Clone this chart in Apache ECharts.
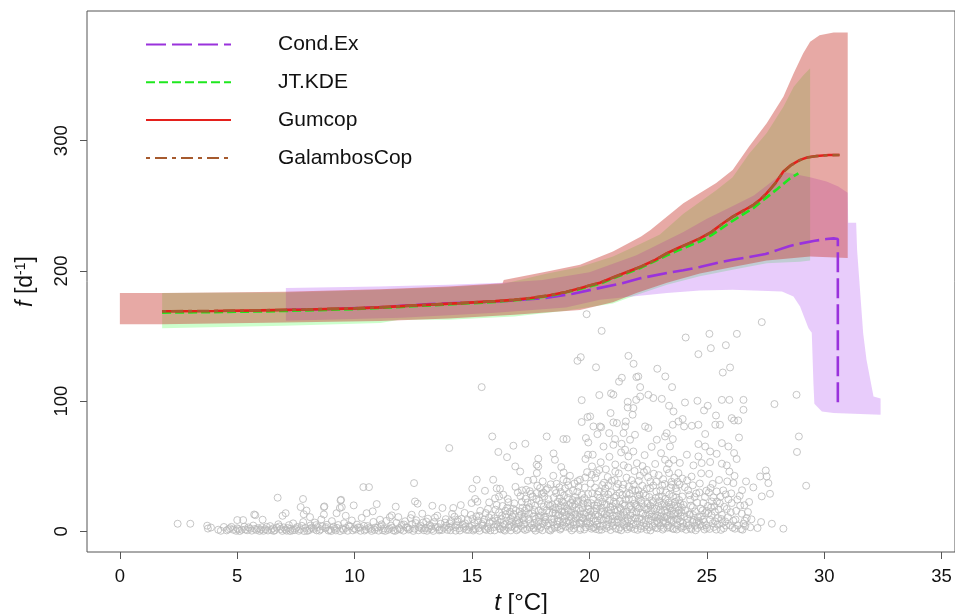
<!DOCTYPE html>
<html>
<head>
<meta charset="utf-8">
<script src="https://cdn.jsdelivr.net/npm/echarts@6/dist/echarts.min.js"></script>
<style>
html,body{margin:0;padding:0;background:#fff;}
#chart{width:955px;height:614px;}
</style>
</head>
<body>
<div id="chart"></div>
<script>
// ---------- tick labels ----------
var xTicks = [0, 5, 10, 15, 20, 25, 30, 35];
var yTicks = [0, 100, 200, 300];
var seriesNames = ['Cond.Ex', 'JT.KDE', 'Gumcop', 'GalambosCop'];

// ---------- fitted curves ----------
var condExLine = [[7.07,170],[9,170.8],[11,172],[13.2,174.6],[15,175.8],[16.5,177],[18,179],[19.3,182.5],[20.45,187],[21.4,190.6],[22.2,194.5],[23.3,198.5],[24,200.5],[24.7,203],[25.5,206.5],[26.1,208.6],[26.8,210.6],[27.5,213],[28,216],[28.5,219],[28.97,221],[29.6,223.2],[30.1,224.5],[30.4,225],[30.58,224.5],[30.58,95]];
var jtKdeLine = [[1.8,168],[4,168.4],[6,168.9],[8,169.7],[10,170.7],[12,172.4],[14,174.3],[16,176.2],[17.5,178.6],[18.5,181.5],[19.5,185.6],[20.45,190.2],[21.1,194.9],[22.2,202.5],[23.3,212],[24.2,219],[24.7,222.6],[25.2,227.5],[26.1,238.5],[27,248.5],[27.55,256.5],[28,263],[28.5,270.5],[28.9,275]];
var gumcopLine = [[1.8,169],[4,169.3],[6,169.7],[8,170.4],[10,171.3],[11,172],[12.6,173.6],[14.5,175.3],[16,176.8],[16.8,177.8],[17.5,179.2],[18.2,181],[19,183.8],[19.6,186.8],[20,188.8],[20.45,191],[21.1,195.7],[21.6,199.2],[22.2,203.4],[22.8,208.5],[23.3,213.6],[23.8,217.8],[24.2,221],[24.7,225],[25.2,230],[25.6,235.5],[26.1,241.7],[26.6,246.8],[27,251],[27.3,255.3],[27.55,259.7],[27.9,267],[28.26,276.3],[28.6,281.5],[28.97,285.3],[29.3,287.3],[29.68,288.3],[30.2,289],[30.65,289]];
var galambosLine = [[1.8,169],[4,169.3],[6,169.8],[8,170.5],[10,171.4],[11,172],[12.6,173.6],[14.5,175.3],[16,176.8],[16.8,177.9],[17.5,179.3],[18.2,181.1],[19,183.9],[19.6,186.8],[20,188.8],[20.45,191],[21.1,195.6],[21.6,199.1],[22.2,203.3],[22.8,208.4],[23.3,213.4],[23.8,217.6],[24.2,220.8],[24.7,224.8],[25.2,229.8],[25.6,235.3],[26.1,241.5],[26.6,246.6],[27,250.8],[27.3,255.1],[27.55,259.5],[27.9,266.8],[28.26,276.1],[28.6,281.3],[28.97,285.1],[29.3,287.1],[29.68,288.2],[30.2,288.9],[30.65,289]];

// ---------- confidence bands (upper / lower boundaries) ----------
var gumcopUpper = [[0,183],[1.8,183],[7,184],[11.1,186],[14,188],[16.3,190.5],[16.35,193],[18.2,199.5],[19.6,204.7],[21,214.9],[22.2,226.4],[22.6,231.5],[24,252],[25.4,267.5],[26.1,277.5],[26.8,295.5],[27.55,313.4],[28.26,333.8],[28.7,351.8],[29.1,367],[29.4,376],[29.8,381],[30.4,383],[31.0,383]];
var gumcopLower = [[0,159],[1.8,159],[7,160.5],[11.1,161.5],[14,163.5],[16.8,166.3],[19.6,170],[21,176],[22,183],[23.3,191],[24.7,198],[26.1,203],[27.55,208],[29.4,211],[31.0,210]];
var jtKdeUpper = [[1.8,183],[7,183.5],[11.1,185.5],[14,187.5],[16.3,190],[18.2,198],[19.6,203],[21,211],[22.2,221],[23,228],[24,244],[25.4,262],[26.1,272],[26.8,290],[27.55,306],[28.26,326],[28.7,341.5],[29.1,350],[29.4,355.6]];
var jtKdeLower = [[1.8,156],[7,158],[11.1,160],[11.9,162.5],[14,162.5],[16.8,165],[19,169.5],[21,175],[22,181.5],[23.3,189.5],[24.7,196],[26.1,201],[27.55,206],[28.97,207],[29.4,208]];
var condExUpper = [[7.07,187],[11,188],[14,189.5],[16.3,191],[18,193],[20,199],[22,212],[24,230],[25,240],[26,249],[27,258],[27.8,269],[28.3,276],[29.4,272],[30.1,268.6],[30.6,264.8],[31.0,260],[31.02,237],[31.36,237],[31.4,216],[31.66,152],[31.8,131.8],[32.1,103.6],[32.4,102],[32.4,89.6]];
var condExLower = [[7.07,161.7],[12,164],[16,168],[19,172],[20.45,177.8],[23.3,183],[24.7,185],[26.1,185.5],[28.2,184.2],[28.69,180.4],[28.97,172.7],[29.33,156],[29.47,152.5],[29.54,114],[29.58,98],[29.9,92],[30.4,90.9],[32.4,89.6]];

// ---------- observations (t, f) ----------
var obsLeft = [[2.46,5.9],[3.0,5.9],[3.72,4.4],[3.88,3.0],[3.75,2.2],[4.19,1.3],[4.43,3.4],[4.55,0.8],[4.69,2.4],[4.83,1.3],[4.95,0.5],[5.0,2.4],[5.19,1.3],[5.0,8.7],[5.25,8.7],[5.3,3.6],[5.42,0.9],[5.55,2.1],[5.72,13],[5.77,12.5],[5.68,4.5],[5.82,1.1],[5.95,0.4],[6.08,9],[6.05,3.2],[6.2,1.6],[6.31,0.7],[6.4,4.1],[6.52,2.3],[6.6,0.9],[6.72,25.9],[6.75,5.5],[6.85,1.8],[6.93,12],[7.06,14],[6.98,3.1],[7.1,0.6],[7.2,4.8],[7.27,2.0],[7.38,6.2],[7.45,1.1],[7.55,3.4],[7.62,0.5],
[4.3,0.5],[4.62,1.6],[5.1,0.3],[5.35,1.5],[5.62,0.6],[5.88,2.5],[6.12,0.5],[6.45,1.2],[6.68,2.9],[6.92,0.4],[7.15,2.6],[7.35,0.8],[7.68,1.6],[7.98,0.4],[8.18,2.9],[8.38,0.8],[8.62,3.9],[8.88,0.7],[9.15,1.9],[9.38,0.3],[9.62,2.7],[9.92,0.8],[10.15,3.1],[10.48,1.6],[10.72,0.4],[10.98,2.9],[11.2,0.9],[11.48,2.1],[11.72,0.4],[11.95,1.5],
[4.75,3.5],[5.05,1.7],[5.48,3.1],[5.75,1.9],[6.0,1.4],[6.25,3.5],[6.55,0.4],[6.8,3.8],[7.05,1.4],[7.25,0.3],[7.5,2.4],[7.75,4.3],[7.85,0.3],[8.08,2.1],[8.35,4.8],[8.55,1.6],[8.78,3.3],[9.0,0.3],[9.25,2.7],[9.52,1.1],[9.75,4.6],[9.98,2.3],[10.25,0.5],[10.4,4.3],[10.6,2.6],[10.85,1.2],[11.1,3.6],[11.3,0.4],[11.6,2.9],[11.82,1.3]];
var obsMidLeft = [[7.7,18.7],[7.8,24.9],[7.81,7.2],[7.83,13.2],[7.9,2.7],[7.95,16],[8.05,0.9],[8.1,11],[8.12,4.6],[8.25,1.9],[8.3,6.8],[8.42,3.3],[8.5,0.6],[8.58,9.2],[8.69,18.7],[8.69,13],[8.71,19.2],[8.75,2.4],[8.82,5.1],[8.95,1.2],[9.03,7.9],[9.1,3.6],[9.2,0.8],[9.23,14],[9.3,4.9],[9.37,18],[9.4,23.8],[9.42,24.3],[9.45,18.7],[9.48,2.2],[9.55,6.3],[9.62,12],[9.7,0.5],[9.8,3.8],[9.88,8.4],[9.96,20],[10.05,1.5],[10.1,5.2],[10.22,2.8],[10.3,10.4],[10.37,34],[10.42,0.7],[10.51,14],[10.55,4.1],[10.61,34],[10.68,1.9],[10.77,15.4],[10.8,7.3],[10.88,3.0],[10.94,21],[11.02,0.6],[11.08,9],[11.15,5.4],[11.25,2.3],[11.35,8.1],[11.42,1.2],[11.5,11],[11.55,4.5],[11.58,12.3],[11.65,0.8],[11.75,19],[11.78,6.6],[11.86,11],[11.9,2.6],[12.0,4.9]];
var obsMid = [[12.08,0.6],[12.15,7.8],[12.2,3.2],[12.3,1.4],[12.38,10.2],[12.43,12.8],[12.45,5.6],[12.53,37.1],[12.55,2.1],[12.57,23],[12.62,8.6],[12.68,21.3],[12.72,0.9],[12.8,4.3],[12.88,13.6],[12.92,6.9],[13.0,2.6],[13.08,0.5],[13.12,9.8],[13.2,4.8],[13.28,1.7],[13.31,19.7],[13.38,7.1],[13.45,3.5],[13.52,12.1],[13.6,0.8],[13.66,5.9],[13.74,18],[13.8,2.8],[13.88,9.4],[13.95,1.2],[14.03,64],[14.05,6.2],[14.12,3.9],[14.2,18],[14.25,11.3],[14.3,0.6],[14.38,7.7],[14.45,2.4],[14.52,20.2],[14.6,5.1],[14.68,14.2],[14.75,1.3],[14.82,8.8],[14.9,3.4],[14.98,21.8],[15.01,32.8],[15.05,0.7],[15.1,6.5],[15.13,24.9],[15.18,11.6],[15.2,39.7],[15.23,22.8],[15.28,2.5],[15.35,15.8],[15.41,110.8],[15.45,4.4],[15.52,9.1],[15.55,31.2],[15.6,1.2],[15.68,17.3],[15.73,22.3],[15.75,6.8],[15.82,12.4],[15.86,72.9],[15.9,39.7],[15.92,3.3],[15.98,25.4],[16.05,33],[16.08,8.3],[16.12,61],[16.15,14.6],[16.19,32.8],[16.22,1.6],[16.3,19.5],[16.33,28.2],[16.38,5.2],[16.45,10.7],[16.49,57],[16.52,24.9],[16.55,2.9],[16.62,15.1],[16.7,7.4],[16.76,65.8],[16.8,21.6],[16.84,49.9],[16.9,0.9],[16.95,29.9],[17.0,11.9],
[12.25,2.9],[12.5,0.4],[12.75,3.1],[12.95,0.9],[13.15,2.2],[13.35,0.4],[13.55,3.3],[13.72,1.1],[13.9,4.3],[14.08,0.9],[14.28,3.2],[14.48,0.7],[14.65,2.6],[14.85,1.1],[15.0,4.2],[15.15,2.1],[15.32,0.5],[15.48,7.2],[15.65,3.6],[15.78,0.8],[15.95,10.1],[16.02,5.5],[16.18,2.3],[16.28,12.2],[16.4,0.6],[16.58,8.1],[16.68,3.7],[16.78,13.4],[16.88,5.8],[16.96,1.9],
[12.1,5.3],[12.35,1.9],[12.6,6.4],[12.85,2.2],[13.05,7.6],[13.25,3.9],[13.42,10.6],[13.62,1.6],[13.85,6.8],[14.02,2.9],[14.15,13.5],[14.35,4.8],[14.55,9.6],[14.72,3.8],[14.95,12.7],[15.08,1.8],[15.25,8.4],[15.42,5.7],[15.58,14.1],[15.7,2.4],[15.88,7.9],[16.0,16.7],[16.1,4.1],[16.25,9.3],[16.35,1.3],[16.5,18.2],[16.6,4.9],[16.72,11.2],[16.82,2.6],[16.92,8.6],
[16.05,20.3],[16.15,26.8],[16.3,3.6],[16.42,15.9],[16.55,22.4],[16.65,0.8],[16.75,17.4],[16.85,34.2],[16.98,6.1],
[14.1,7.9],[14.4,9.1],[14.7,6.2],[15.02,9.6],[15.3,11.9],[15.55,1.9],[15.72,10.8],[15.96,0.8],[16.2,6.9],[16.44,13.1],[16.66,9.6],[16.86,16.1]];
var obsMidRight = [[17.05,46],[17.08,4.2],[17.13,31.5],[17.15,18.2],[17.2,8.7],[17.27,67.3],[17.28,25.1],[17.3,32],[17.35,1.8],[17.38,38.9],[17.42,13.5],[17.48,6.1],[17.52,21.4],[17.58,26.9],[17.6,2.7],[17.61,39.7],[17.65,16.4],[17.72,9.8],[17.75,51.2],[17.76,29.5],[17.76,44.8],[17.8,3.9],[17.82,55.8],[17.82,49.9],[17.86,23.6],[17.9,33.3],[17.92,12.2],[17.97,28.9],[18.0,0.9],[18.01,38.4],[18.05,18.9],[18.1,7.2],[18.15,31.8],[18.18,72.9],[18.2,4.5],[18.25,24.7],[18.3,14.6],[18.35,36.2],[18.4,2.1],[18.42,20.3],[18.46,42.7],[18.47,59.9],[18.5,9.6],[18.53,55],[18.58,29.4],[18.62,5.3],[18.68,16.8],[18.72,33.9],[18.75,1.4],[18.8,49.4],[18.82,23.1],[18.86,11.7],[18.89,70.9],[18.89,39.7],[18.9,45.3],[18.92,27.6],[18.98,3.6],[19.03,70.9],[19.05,17.5],[19.1,35.4],[19.12,8.1],[19.17,42.7],[19.2,21.9],[19.25,0.8],[19.3,31.2],[19.35,12.9],[19.4,26.3],[19.45,5.7],[19.49,131],[19.5,38.6],[19.55,17.4],[19.6,39.7],[19.62,2.3],[19.63,133.8],[19.67,100.8],[19.67,84],[19.7,24.2],[19.75,9.8],[19.8,33.7],[19.83,55.6],[19.85,71.7],[19.86,14.4],[19.88,166.8],[19.9,45.5],[19.92,87.8],[19.94,58.9],[19.95,68.3],[19.95,28.7],[19.98,4.1],
[17.1,12.7],[17.18,2.1],[17.25,15.9],[17.4,9.4],[17.55,4.8],[17.68,19.8],[17.7,0.6],[17.85,7.5],[17.95,21.2],[18.08,26.8],[18.12,11.3],[18.28,1.2],[18.33,19.6],[18.45,6.9],[18.55,13.9],[18.65,22.7],[18.7,8.2],[18.78,30.2],[18.85,4.6],[18.95,19.4],[19.08,25.7],[19.15,2.7],[19.22,14.8],[19.32,7.2],[19.38,20.6],[19.48,30.5],[19.58,11.2],[19.65,5.9],[19.72,17.9],[19.78,1.5],[19.92,22.1],
[17.02,7.1],[17.12,22.6],[17.22,5.4],[17.32,17.7],[17.45,3.1],[17.5,28.8],[17.62,11.6],[17.78,35.1],[17.88,1.9],[17.98,14.9],[18.02,5.9],[18.18,16.2],[18.22,33.2],[18.38,9.1],[18.48,25.9],[18.52,2.8],[18.6,36.6],[18.66,12.3],[18.78,19.6],[18.88,7.4],[18.96,33.1],[19.02,12.6],[19.12,29.4],[19.2,4.3],[19.28,24.1],[19.36,36.8],[19.42,10.1],[19.52,22.9],[19.6,1.1],[19.68,28.2],[19.76,13.5],[19.82,41.4],[19.9,7.6],[19.96,17.1],
[17.06,27.1],[17.16,9.8],[17.26,1.1],[17.36,22.2],[17.46,30.9],[17.56,13.8],[17.66,6.3],[17.74,24.9],[17.84,15.8],[17.94,3.4],[18.04,29.8],[18.14,8.9],[18.24,20.8],[18.34,0.7],[18.44,14.2],[18.54,31.6],[18.64,3.3],[18.74,25.3],[18.84,15.4],[18.94,9.7],[19.04,38.4],[19.14,20.2],[19.24,10.6],[19.34,2.2],[19.44,16.5],[19.54,34.3],[19.64,8.2],[19.74,21.5],[19.84,3.2],[19.94,11.8],
[17.03,15.3],[17.24,11.1],[17.44,18.6],[17.64,2.2],[17.84,11.1],[18.06,10.8],[18.26,6.3],[18.46,17.1],
[18.55,18.4],[18.63,7.7],[18.71,13.1],[18.79,2.4],[18.87,22.3],[18.93,14.9],[19.01,6.8],[19.09,16.3],[19.18,11.4],[19.27,19.3],[19.33,4.9],[19.41,13.4],[19.47,23.6],[19.57,6.6],[19.63,15.6],[19.71,10.3],[19.79,25.6],[19.87,6.4],[19.93,19.5]];
var obsPeak = [[20.03,88.3],[20.05,36.8],[20.08,12.5],[20.11,49.9],[20.14,58.9],[20.15,24.4],[20.17,80.6],[20.2,3.2],[20.25,41.2],[20.28,126],[20.3,17.6],[20.31,44.8],[20.34,74.7],[20.35,8.4],[20.4,30.7],[20.42,104.7],[20.45,80.6],[20.48,53.1],[20.5,80],[20.52,154],[20.52,1.3],[20.55,22.8],[20.6,65.2],[20.62,37.4],[20.65,13.3],[20.7,47.7],[20.75,5.2],[20.8,28.4],[20.84,75.5],[20.85,57.3],[20.88,18.5],[20.9,90.9],[20.92,106],[20.95,38.9],[21.0,9.6],[21.02,105],[21.02,83.7],[21.02,66.5],[21.05,26.1],[21.09,70.9],[21.1,51.4],[21.12,2.2],[21.15,33.8],[21.17,83.2],[21.2,15.9],[21.25,44.6],[21.26,115],[21.3,23.4],[21.35,60.7],[21.37,67.3],[21.38,118],[21.4,6.8],[21.45,75.5],[21.45,35.9],[21.5,12.4],[21.52,62.7],[21.52,80.6],[21.55,84.4],[21.58,28.6],[21.63,99.5],[21.63,95.2],[21.65,49.1],[21.66,134.8],[21.66,57.6],[21.7,3.7],[21.73,70.4],[21.75,19.7],[21.8,39.3],[21.84,89.6],[21.87,94.7],[21.87,61.4],[21.88,128.7],[21.9,10.6],[21.94,74.2],[21.95,31.2],[21.99,101],[22.0,118.5],[22.02,52.4],[22.05,1.2],[22.08,119],[22.1,24.8],[22.15,42.7],[22.16,103.6],[22.16,110.8],[22.2,14.2],[22.25,35.1],[22.3,6.4],[22.35,58.6],[22.37,80.6],[22.4,27.5],[22.45,47.2],[22.5,17.9],[22.51,104.9],[22.51,79.4],[22.55,3.1],[22.6,38.3],[22.65,64.9],[22.7,22.5],[22.72,102.4],[22.75,11.3],[22.8,51.8],[22.85,30.6],[22.87,70.4],[22.89,124.9],[22.9,2.4],[22.95,43.2],[23.0,16.7],[23.05,60.1],[23.08,101.8],[23.1,26.9],[23.15,8.2],[23.2,36.4],[23.22,55],[23.22,72.9],[23.23,119],[23.28,19.1],[23.29,75.5],[23.3,47.8],[23.35,4.6],[23.39,96.5],[23.39,44.8],[23.4,28.3],[23.43,65.2],[23.45,12.7],[23.5,38.1],[23.51,35.8],[23.52,110.8],[23.55,70.9],[23.55,81.9],[23.58,55],[23.58,92.1],[23.6,1.9],[23.65,22.7],[23.72,30.7],[23.75,9.3],[23.79,44.8],[23.79,84.4],[23.8,16.2],[23.85,52.6],[23.9,3.5],[23.95,26.8],[23.97,86.3],
[20.02,6.1],[20.12,29.3],[20.22,19.9],[20.28,1.8],[20.38,11.6],[20.45,25.8],[20.58,4.4],[20.68,32.9],[20.72,20.6],[20.82,9.1],[20.9,1.1],[20.98,19.3],[21.08,39.5],[21.18,6.9],[21.28,29.7],[21.35,0.9],[21.42,21.1],[21.48,4.9],[21.6,15.3],[21.68,34.6],[21.78,8.6],[21.85,24.3],[21.92,1.8],[22.0,14.8],[22.08,31.5],[22.18,4.1],[22.22,21.7],[22.32,45.6],[22.38,12.1],[22.45,1.3],[22.55,26.4],[22.62,8.7],[22.72,35.2],[22.8,2.9],[22.85,17.3],[22.98,9.6],[23.02,31.4],[23.12,1.4],[23.18,21.5],[23.25,6.3],[23.32,14.9],[23.42,3.1],[23.48,20.8],[23.58,7.9],[23.68,33.2],[23.72,1.5],[23.82,24.1],[23.88,11.8],[23.98,6.2],
[20.05,15.3],[20.1,43.5],[20.18,9.7],[20.24,33.6],[20.32,5.1],[20.36,22.1],[20.42,47.2],[20.5,14.8],[20.55,35.6],[20.6,8.9],[20.66,26.2],[20.72,2.5],[20.78,41.8],[20.86,14.1],[20.92,30.1],[21.0,4.3],[21.04,22.7],[21.1,45.8],[21.16,11.8],[21.22,36.5],[21.3,3.1],[21.34,17.2],[21.4,27.9],[21.46,50.8],[21.52,8.1],[21.58,41.3],[21.62,1.7],[21.68,24.9],[21.74,12.4],[21.82,31.9],[21.86,5.6],[21.92,46.4],[21.98,20.2],[22.04,7.6],[22.1,38.8],[22.14,28.1],[22.2,2.1],[22.26,50.2],[22.34,18.6],[22.4,8.6],[22.44,32.9],[22.5,41.6],[22.56,13.1],[22.6,0.8],[22.66,23.8],[22.74,44.3],[22.78,6.1],[22.84,38.2],[22.9,12.2],[22.96,26.7],[23.02,4.3],[23.08,20.4],[23.14,40.1],[23.2,10.8],[23.26,29.9],[23.32,2.8],[23.38,52.1],[23.44,17.8],[23.5,8.3],[23.56,27.1],[23.62,41.2],[23.66,13.4],[23.74,4.8],[23.78,19.3],[23.84,36.1],[23.92,14.7],[23.96,40.6],
[20.07,21.7],[20.16,2.9],[20.26,12.9],[20.34,28.2],[20.44,3.7],[20.53,18.1],[20.63,29.6],[20.7,10.1],[20.8,35.4],[20.87,23.9],[20.96,6.7],[21.06,16.6],[21.14,27.5],[21.24,1.6],[21.32,12.8],[21.41,32.9],[21.5,19.9],[21.57,3.1],[21.64,9.4],[21.72,28.9],[21.8,16.9],[21.89,36.1],[21.96,10.1],[22.06,27.4],[22.12,17.7],[22.24,9.3],[22.3,29.1],[22.42,4.8],[22.48,21.4],[22.58,33.1],[22.64,16.1],[22.7,4.1],[22.82,25.6],[22.88,8.1],[22.94,19.6],[23.04,11.2],[23.1,35.2],[23.16,2.7],[23.24,24.9],[23.34,9.6],[23.4,18.9],[23.46,33.8],[23.54,2.1],[23.6,13.5],[23.7,26.1],[23.76,38.1],[23.86,7.6],[23.94,18.3],
[20.01,10.4],[20.09,2.1],[20.19,15.8],[20.27,7.9],[20.33,19.6],[20.41,1.2],[20.49,9.4],[20.57,15.1],[20.64,20.4],[20.74,12.6],[20.83,3.6],[20.91,16.4],[20.99,12.1],[21.07,7.9],[21.13,21.6],[21.21,9.2],[21.29,18.3],[21.37,10.9],[21.44,14.4],[21.53,24.5],[21.61,6.3],[21.69,18.7],[21.77,2.8],[21.83,13.9],[21.91,21.3],[21.97,4.9],[22.03,18.9],[22.11,10.3],[22.19,23.9],[22.27,13.6],[22.35,3.4],[22.43,16.8],[22.52,9.8],[22.59,19.7],[22.67,11.6],[22.76,17.9],[22.83,10.9],[22.92,6.2],[22.99,23.3],[23.07,14.2],[23.13,6.9],[23.21,16.1],[23.29,11.8],[23.37,22.1],[23.43,8.9],[23.52,15.9],[23.61,19.8],[23.69,9.6],[23.77,13.6],[23.87,21.1],[23.93,2.4]];
var obsRight = [[24.0,20.5],[24.03,80.6],[24.07,99],[24.1,148.9],[24.15,58.9],[24.15,6.4],[24.2,31.6],[24.25,13.2],[24.29,24.3],[24.29,2.6],[24.35,42.1],[24.36,81.1],[24.4,18.6],[24.43,50.7],[24.45,8.8],[24.5,15.4],[24.55,29.2],[24.6,100.3],[24.6,2.6],[24.64,136.1],[24.64,81.9],[24.64,67.1],[24.64,57.6],[24.7,36.8],[24.75,11.4],[24.78,52.5],[24.8,4.2],[24.85,21.9],[24.88,92.9],[24.93,74.8],[24.93,65.2],[24.93,14.1],[24.98,31.3],[25.0,2.6],[25.04,96.5],[25.09,29.9],[25.1,44.2],[25.11,151.7],[25.14,61.4],[25.14,53.3],[25.14,9],[25.17,140.7],[25.21,23],[25.25,36.5],[25.3,3.4],[25.35,7.7],[25.36,81.9],[25.39,89],[25.42,59.6],[25.42,30.7],[25.43,23],[25.5,16.8],[25.56,81.9],[25.6,1.2],[25.64,101],[25.64,67.8],[25.64,52],[25.64,12.8],[25.68,122],[25.7,31.5],[25.78,7.7],[25.81,143],[25.85,50.7],[25.85,17.2],[25.87,38.4],[25.92,65.2],[25.96,101],[25.96,46],[25.99,125.9],[26.06,87],[26.06,21.8],[26.13,37.1],[26.13,8.2],[26.16,85.2],[26.16,60.2],[26.2,2.1],[26.27,55.6],[26.28,151.7],[26.34,85.2],[26.37,72.1],[26.4,27.3],[26.49,13.6],[26.56,101],[26.56,93.4],[26.56,5.9],[26.67,38.4],[26.7,10.3],[26.98,33.8],
[24.05,11.7],[24.12,1.3],[24.22,4.7],[24.32,19.8],[24.38,7.1],[24.48,26.4],[24.52,0.9],[24.62,10.8],[24.72,5.4],[24.82,16.1],[24.9,1.5],[25.05,19.6],[25.2,12.5],[25.28,26.1],[25.45,5.3],[25.55,21.6],[25.72,2.4],[25.9,10.9],[26.0,4.6],[26.25,15.8],[26.45,1.8],[26.6,20.1],[26.85,3.2],
[24.02,3.9],[24.08,16.1],[24.18,9.6],[24.26,27.9],[24.34,1.6],[24.42,12.6],[24.5,4.4],[24.58,22.1],[24.66,7.9],[24.74,17.6],[24.84,9.1],[24.92,26.3],[24.96,4.7],[25.06,13.9],[25.12,1.9],[25.18,18.4],[25.26,6.3],[25.34,15.2],[25.4,1.4],[25.48,10.2],[25.58,26.7],[25.66,6.4],[25.74,18.9],[25.82,4.5],[25.92,24.6],[26.02,14.7],[26.1,2.9],[26.22,9.1],[26.32,4.6],[26.42,19.8],[26.52,1.3],[26.62,8.2],[26.75,14.9],
[24.06,33.9],[24.16,39.2],[24.28,12.9],[24.4,35.4],[24.56,6.9],[24.68,29.9],[24.76,44.6],[24.88,7.3],[25.0,15.8],[25.16,33.4],[25.32,19.3],[25.52,39.5],[25.62,9.5],[25.8,28.4],[26.04,29.2],[26.18,42.6],[26.3,24.4],[26.5,31.6],[26.64,4.2],[26.8,22.6],[26.9,9.3],
[27.16,2.6],[27.27,42.2],[27.31,7.2],[27.34,160.7],[27.34,26.9],[27.51,46.8],[27.55,42.2],[27.62,37.1],[27.69,28.9],[27.77,5.9],[27.88,97.8],[28.26,2.1],[28.82,104.9],[28.84,61],[28.92,72.9],[29.23,35.1]];

// ---------- colours ----------
var lineColors = {'Cond.Ex':'#9a32dc', 'JT.KDE':'#1ee81e', 'Gumcop':'#e4201c', 'GalambosCop':'#a65a2e'};

var FONT = 'Liberation Sans, Arial, Helvetica, sans-serif';

function bandSeries(upper, lower, fill, z) {
  var poly = upper.concat(lower.slice().reverse());
  return {
    type: 'custom',
    silent: true,
    z: z,
    clip: true,
    data: poly,
    renderItem: function (params, api) {
      if (params.dataIndex !== 0) return null;
      var pts = [];
      for (var i = 0; i < poly.length; i++) pts.push(api.coord(poly[i]));
      return { type: 'polygon', shape: { points: pts }, style: { fill: fill, stroke: null } };
    }
  };
}

function lineSeries(name, data, dash, z) {
  return {
    type: 'line', name: name, data: data, showSymbol: false, symbol: 'none',
    smooth: false, silent: true, z: z,
    lineStyle: { color: lineColors[name], width: 2.6, type: dash },
    itemStyle: { color: lineColors[name] }
  };
}

var obsAll = obsLeft.concat(obsMidLeft, obsMid, obsMidRight, obsPeak, obsRight);

var chart = echarts.init(document.getElementById('chart'), null, { renderer: 'canvas' });
chart.setOption({
  animation: false,
  backgroundColor: '#ffffff',
  textStyle: { fontFamily: FONT },
  grid: { left: 87, right: 0, top: 11, bottom: 62, show: true, borderColor: '#555', borderWidth: 1, backgroundColor: 'transparent', containLabel: false, outerBoundsMode: 'none' },
  legend: {
    data: seriesNames,
    orient: 'vertical', left: 140, top: 29,
    itemWidth: 85, itemHeight: 14, itemGap: 16.8,
    itemStyle: { color: 'rgba(0,0,0,0)', borderWidth: 0, opacity: 0 },
    textStyle: { fontSize: 21, color: '#111', fontFamily: FONT, padding: [0, 0, 0, 42], lineHeight: 20 },
    selectedMode: false
  },
  xAxis: {
    type: 'value', min: -1.4, max: 35.57,
    name: '{it|t} [°C]', nameLocation: 'middle', nameGap: 34,
    nameTextStyle: { fontSize: 24, color: '#111', fontFamily: FONT, rich: { it: { fontSize: 24, fontStyle: 'italic', color: '#111', fontFamily: FONT } } },
    axisLine: { show: false, onZero: false },
    splitLine: { show: false },
    axisTick: { show: true, length: 7, inside: false, customValues: xTicks, lineStyle: { color: '#555' } },
    axisLabel: { customValues: xTicks, fontSize: 18.5, color: '#111', margin: 15, fontFamily: FONT }
  },
  yAxis: {
    type: 'value', min: -15.8, max: 399.6,
    name: '{it|f} [d{sup|-1}]', nameLocation: 'middle', nameGap: 50, nameRotate: 90,
    nameTextStyle: { fontSize: 23, color: '#111', fontFamily: FONT, rich: { it: { fontSize: 23, fontStyle: 'italic', color: '#111', fontFamily: FONT }, sup: { fontSize: 14, color: '#111', verticalAlign: 'top', fontFamily: FONT } } },
    axisLine: { show: false, onZero: false },
    splitLine: { show: false },
    axisTick: { show: true, length: 7, inside: false, customValues: yTicks, lineStyle: { color: '#555' } },
    axisLabel: { customValues: yTicks, fontSize: 18.5, color: '#111', margin: 16, rotate: 90, fontFamily: FONT }
  },
  series: [
    bandSeries(jtKdeUpper, jtKdeLower, 'rgba(0,255,0,0.2)', 1),
    bandSeries(condExUpper, condExLower, 'rgba(160,40,240,0.24)', 2),
    bandSeries(gumcopUpper, gumcopLower, 'rgba(200,60,50,0.44)', 3),
    {
      type: 'scatter', data: obsAll, symbol: 'circle', symbolSize: 7, silent: true, z: 4,
      itemStyle: { color: 'rgba(0,0,0,0)', borderColor: '#b8b8b8', borderWidth: 1 }
    },
    lineSeries('Cond.Ex', condExLine, [20, 6], 5),
    lineSeries('JT.KDE', jtKdeLine, [9, 4], 6),
    lineSeries('Gumcop', gumcopLine, 'solid', 7),
    lineSeries('GalambosCop', galambosLine, [4, 5, 12, 5], 8)
  ]
});
</script>
</body>
</html>
